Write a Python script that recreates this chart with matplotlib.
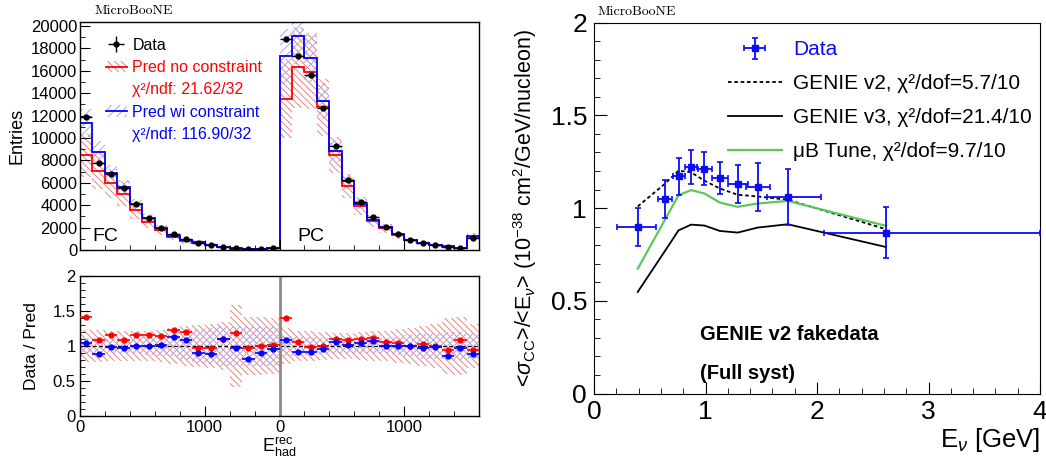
import numpy as np
import matplotlib.pyplot as plt
from matplotlib.patches import Patch
from matplotlib.lines import Line2D
from matplotlib.ticker import MultipleLocator, FixedLocator, FixedFormatter

plt.rcParams['font.family'] = ['Liberation Sans', 'DejaVu Sans']
plt.rcParams['mathtext.fontset'] = 'custom'
plt.rcParams['mathtext.rm'] = 'Liberation Sans'
plt.rcParams['mathtext.it'] = 'Liberation Sans:italic'
plt.rcParams['mathtext.bf'] = 'Liberation Sans:bold'
plt.rcParams['hatch.linewidth'] = 0.7

# ---- reconstructed hadronic energy, FC then PC, 16 bins of 100 MeV each ----
bin_width = 100
data_fc = [11900, 7730, 6830, 5500, 4070, 2880, 1990, 1400, 950, 650, 420, 270, 150, 100, 60, 180]
data_pc = [18870, 17330, 15660, 12690, 9300, 6210, 4310, 2910, 2050, 1400, 890, 620, 450, 270, 210, 1100]

# data / prediction
ratio_nocon_fc = [1.408, 1.092, 1.150, 1.092, 1.150, 1.150, 1.141, 1.223, 1.199, 0.976, 0.976, 1.107, 1.189, 0.971, 1.000, 1.019]
ratio_nocon_pc = [1.398, 1.063, 0.985, 0.995, 1.097, 1.092, 1.102, 1.112, 1.063, 1.039, 1.005, 1.034, 1.000, 0.942, 1.087, 0.942]
ratio_con_fc = [1.049, 0.883, 0.990, 0.971, 0.995, 1.000, 1.015, 1.131, 1.092, 0.893, 0.883, 1.107, 0.966, 0.816, 0.898, 0.956]
ratio_con_pc = [1.092, 0.908, 0.913, 0.956, 1.053, 1.010, 1.044, 1.073, 1.005, 1.005, 1.005, 0.971, 0.985, 0.859, 0.971, 0.879]

# relative prediction uncertainties
relerr_nocon_fc = [0.23, 0.23, 0.22, 0.22, 0.22, 0.22, 0.23, 0.25, 0.28, 0.30, 0.32, 0.34, 0.58, 0.42, 0.42, 0.40]
relerr_nocon_pc = [0.26, 0.22, 0.21, 0.20, 0.19, 0.19, 0.20, 0.21, 0.22, 0.24, 0.26, 0.28, 0.32, 0.40, 0.42, 0.32]
relerr_con_fc = [0.11, 0.11, 0.10, 0.10, 0.11, 0.13, 0.14, 0.16, 0.20, 0.24, 0.26, 0.28, 0.28, 0.28, 0.28, 0.28]
relerr_con_pc = [0.14, 0.13, 0.13, 0.12, 0.11, 0.11, 0.11, 0.11, 0.12, 0.13, 0.16, 0.18, 0.18, 0.20, 0.20, 0.18]

chi2_nocon = "21.62/32"
chi2_con = "116.90/32"

# ---- flux-averaged cross section vs E_nu ----
enu = [0.392, 0.633, 0.758, 0.871, 0.990, 1.128, 1.288, 1.467, 1.738, 2.620]
enu_lo = [0.207, 0.570, 0.705, 0.820, 0.930, 1.060, 1.200, 1.360, 1.550, 2.060]
enu_hi = [0.556, 0.700, 0.815, 0.920, 1.060, 1.200, 1.380, 1.580, 2.040, 4.000]
xs_data = [0.897, 1.048, 1.171, 1.222, 1.212, 1.162, 1.130, 1.113, 1.059, 0.868]
xs_err = [0.102, 0.101, 0.101, 0.094, 0.088, 0.088, 0.100, 0.130, 0.150, 0.138]
genie_v2 = [1.009, 1.130, 1.202, 1.193, 1.148, 1.106, 1.072, 1.063, 1.045, 0.886]
genie_v3 = [0.548, 0.766, 0.880, 0.911, 0.906, 0.877, 0.868, 0.895, 0.913, 0.790]
mub_tune = [0.673, 0.934, 1.070, 1.097, 1.079, 1.030, 1.007, 1.025, 1.039, 0.904]
chi2_v2, chi2_v3, chi2_tune = "5.7/10", "21.4/10", "9.7/10"

red_hatch = '#f08282'
blue_hatch = '#a6a6f2'

data = np.array(data_fc + data_pc, dtype=float)
r_nc = np.array(ratio_nocon_fc + ratio_nocon_pc)
r_c = np.array(ratio_con_fc + ratio_con_pc)
e_nc = np.array(relerr_nocon_fc + relerr_nocon_pc)
e_c = np.array(relerr_con_fc + relerr_con_pc)
pred_nc = data / r_nc
pred_c = data / r_c
nb = len(data)
edges = np.arange(nb + 1) * bin_width
centers = edges[:-1] + bin_width / 2
half = len(data_fc) * bin_width

fig = plt.figure(figsize=(10.46, 4.63), dpi=100)
ax_top = fig.add_axes([0.0765, 0.460, 0.3815, 0.4924])
ax_rat = fig.add_axes([0.0765, 0.1015, 0.3815, 0.3024])
ax_xs = fig.add_axes([0.5679, 0.150, 0.4264, 0.801])

# top: event distributions
ax_top.stairs(pred_nc * (1 + e_nc), edges, baseline=pred_nc * (1 - e_nc), fill=True,
              facecolor='none', edgecolor=red_hatch, hatch='\\\\\\\\\\', lw=0)
ax_top.stairs(pred_c * (1 + e_c), edges, baseline=pred_c * (1 - e_c), fill=True,
              facecolor='none', edgecolor=blue_hatch, hatch='////', lw=0)
ax_top.stairs(pred_nc, edges, baseline=None, color='red', lw=1.3)
ax_top.stairs(pred_c, edges, baseline=None, color='blue', lw=1.3)
h_data = ax_top.errorbar(centers, data, xerr=bin_width / 2, yerr=np.sqrt(data), fmt='o',
                         color='black', ms=3.5, lw=1, capsize=0, zorder=5)
ax_top.text(100, 1200, 'FC', fontsize=14, va='center')
ax_top.text(half + 140, 1200, 'PC', fontsize=14, va='center')
ax_top.set_xlim(0, 2 * half)
ax_top.set_ylim(0, 20350)
ax_top.set_ylabel('Entries', fontsize=13, labelpad=4)
ax_top.yaxis.set_major_locator(MultipleLocator(2000))
ax_top.yaxis.set_minor_locator(MultipleLocator(1000))

h_nc = (Patch(facecolor='none', edgecolor=red_hatch, hatch='\\\\\\\\\\', lw=0),
        Line2D([], [], color='red', lw=1.3))
h_c = (Patch(facecolor='none', edgecolor=blue_hatch, hatch='////', lw=0),
       Line2D([], [], color='blue', lw=1.3))
h_none = Line2D([], [], ls='none')
leg = ax_top.legend([h_data, h_nc, h_none, h_c, h_none],
                    ['Data', 'Pred no constraint', 'χ²/ndf: ' + chi2_nocon,
                     'Pred wi constraint', 'χ²/ndf: ' + chi2_con],
                    loc='upper left', bbox_to_anchor=(0.065, 0.93), frameon=False,
                    fontsize=11.5, handlelength=1.3, handletextpad=0.35,
                    labelspacing=0.45, borderpad=0, borderaxespad=0)
for t, c in zip(leg.get_texts(), ['black', 'red', 'red', 'blue', 'blue']):
    t.set_color(c)

# bottom: data / prediction
ax_rat.stairs(1 + e_nc, edges, baseline=1 - e_nc, fill=True,
              facecolor='none', edgecolor=red_hatch, hatch='\\\\\\\\\\', lw=0)
ax_rat.stairs(1 + e_c, edges, baseline=1 - e_c, fill=True,
              facecolor='none', edgecolor=blue_hatch, hatch='/////', lw=0)
ax_rat.axhline(1, color='black', ls=(0, (3, 2)), lw=0.9)
ax_rat.axvline(half, color='#8a8a8a', lw=2)
ax_rat.errorbar(centers, r_nc, xerr=bin_width / 2, fmt='o', color='red', ms=3.5, lw=1.2, zorder=5)
ax_rat.errorbar(centers, r_c, xerr=bin_width / 2, fmt='o', color='blue', ms=3.5, lw=1.2, zorder=6)
ax_rat.set_xlim(0, 2 * half)
ax_rat.set_ylim(0, 2)
ax_rat.set_ylabel('Data / Pred', fontsize=12.5, labelpad=10)
ax_rat.yaxis.set_major_locator(MultipleLocator(0.5))
ax_rat.yaxis.set_minor_locator(MultipleLocator(0.1))
ax_rat.yaxis.set_major_formatter(lambda v, p: f'{v:g}')
ax_rat.set_xlabel(r'$\mathrm{E}_{\mathrm{had}}^{\mathrm{rec}}$', fontsize=13, labelpad=0)

major_x = [0, 1000, half, half + 1000]
minor_x = [v for v in range(0, 2 * half + 1, 200) if v not in major_x]
for ax in (ax_top, ax_rat):
    ax.xaxis.set_major_locator(FixedLocator(major_x))
    ax.xaxis.set_minor_locator(FixedLocator(minor_x))
    ax.tick_params(which='both', direction='in', top=False, right=False, labelsize=12, pad=3)
    ax.tick_params(which='major', length=7)
    ax.tick_params(which='minor', length=3.5)
    for s in ax.spines.values():
        s.set_linewidth(1)
ax_top.tick_params(labelbottom=False, pad=2)
ax_rat.xaxis.set_major_formatter(FixedFormatter(['0', '1000', '0', '1000']))

# right: cross section
enu_a = np.array(enu)
h_xs = ax_xs.errorbar(enu, xs_data, xerr=[enu_a - np.array(enu_lo), np.array(enu_hi) - enu_a],
                      yerr=xs_err, fmt='s', color='#0a0aff', ms=5, lw=1.3, capsize=2,
                      capthick=1.2, zorder=5)
l_v2, = ax_xs.plot(enu, genie_v2, color='black', ls=(0, (2, 1.5)), lw=1.3)
l_v3, = ax_xs.plot(enu, genie_v3, color='black', lw=1.3)
l_tune, = ax_xs.plot(enu, mub_tune, color='#5cc85c', lw=1.6)
ax_xs.set_xlim(0, 4)
ax_xs.set_ylim(0, 2)
ax_xs.xaxis.set_major_locator(MultipleLocator(1))
ax_xs.xaxis.set_minor_locator(MultipleLocator(0.2))
ax_xs.yaxis.set_major_locator(MultipleLocator(0.5))
ax_xs.yaxis.set_minor_locator(MultipleLocator(0.1))
ax_xs.yaxis.set_major_formatter(lambda v, p: f'{v:g}')
ax_xs.tick_params(which='both', direction='in', top=False, right=False, labelsize=19, pad=5)
ax_xs.tick_params(which='major', length=9)
ax_xs.tick_params(which='minor', length=4.5)
ax_xs.set_xlabel(r'E$_{\nu}$ [GeV]', fontsize=18.5, loc='right', labelpad=1)
ax_xs.set_ylabel(r'<$\sigma_{\mathrm{CC}}$>/<E$_{\nu}$> (10$^{-38}$ cm$^{2}$/GeV/nucleon)',
                 fontsize=15.5, labelpad=8)
leg2 = ax_xs.legend([h_xs, l_v2, l_v3, l_tune],
                    ['Data', 'GENIE v2, χ²/dof=' + chi2_v2, 'GENIE v3, χ²/dof=' + chi2_v3,
                     'μB Tune, χ²/dof=' + chi2_tune],
                    loc='upper left', bbox_to_anchor=(0.30, 0.952), frameon=False,
                    fontsize=15, handlelength=2.6, handletextpad=0.55, labelspacing=0.72,
                    borderpad=0, borderaxespad=0)
leg2.get_texts()[0].set_color('#0a0aff')
ax_xs.text(0.237, 0.158, 'GENIE v2 fakedata', transform=ax_xs.transAxes, fontsize=14.5,
           fontweight='bold', va='center')
ax_xs.text(0.237, 0.053, '(Full syst)', transform=ax_xs.transAxes, fontsize=14.5,
           fontweight='bold', va='center')

fig.text(0.0908, 0.976, 'MicroBooNE', family='cmr10', fontsize=10, va='center')
fig.text(0.5717, 0.974, 'MicroBooNE', family='cmr10', fontsize=10, va='center')

# keep the last energy label inside the canvas
fig.canvas.draw()
ax_xs.get_xticklabels()[-1].set_horizontalalignment('right')

fig.savefig('out.png', dpi=100)
